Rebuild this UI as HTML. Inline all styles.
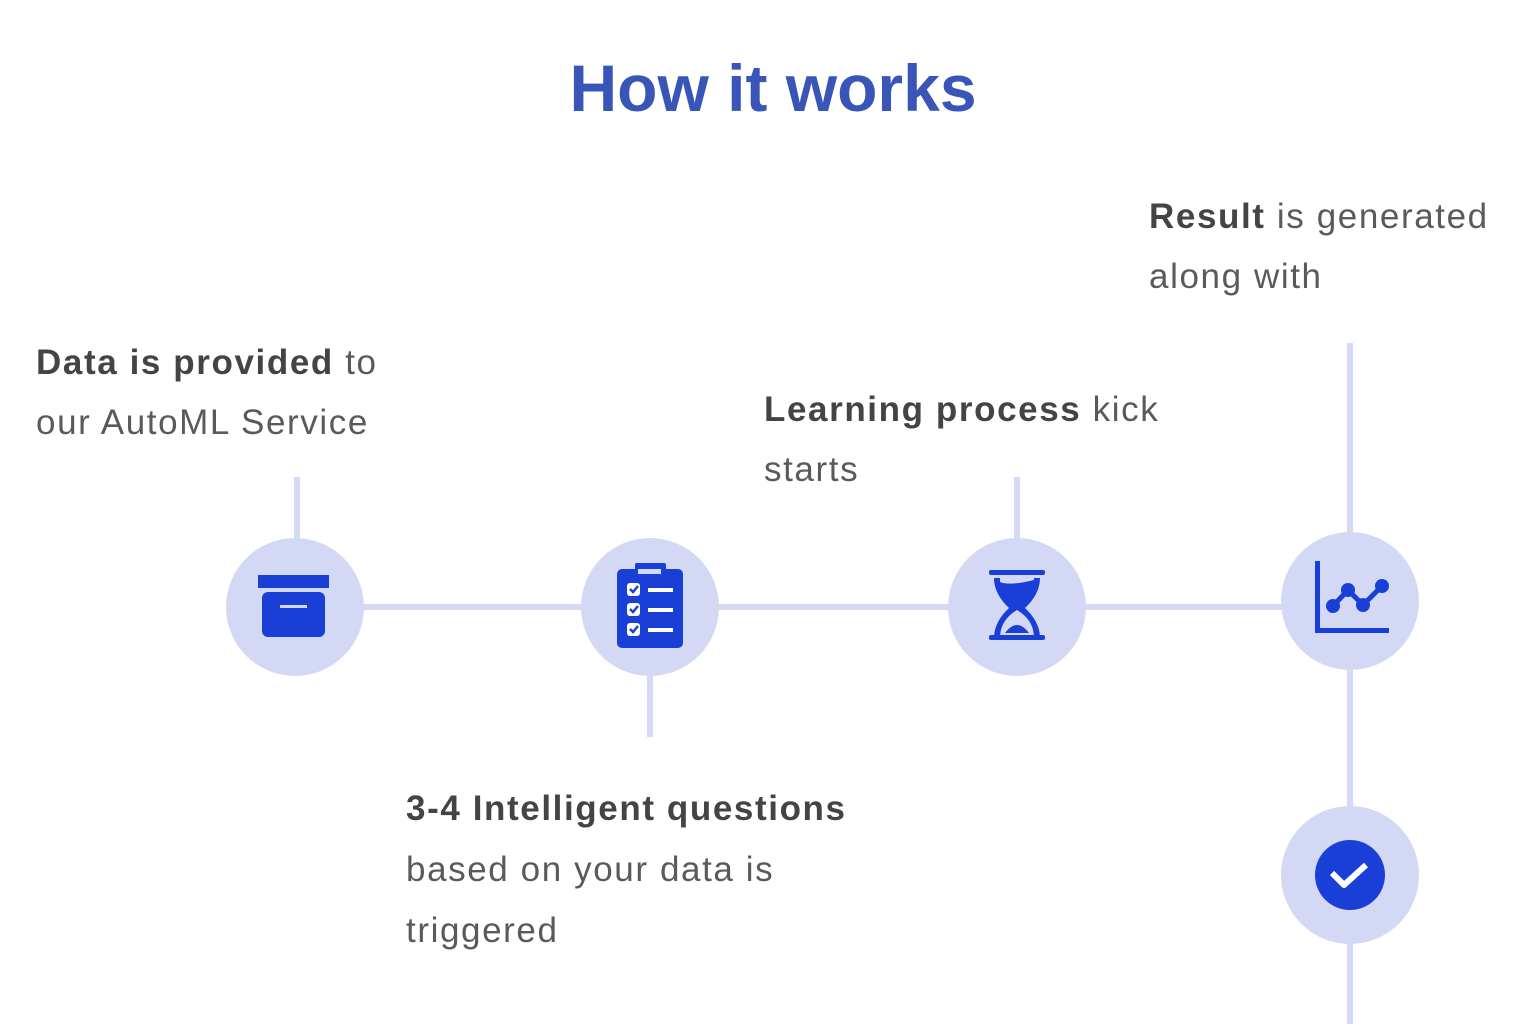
<!DOCTYPE html>
<html><head><meta charset="utf-8"><style>
body{margin:0;width:1536px;height:1024px;background:#fff;position:relative;overflow:hidden;font-family:"Liberation Sans",sans-serif}
.t{position:absolute;font-size:35px;line-height:60px;color:#5a5a5a;white-space:nowrap;letter-spacing:1.6px}
.t b{color:#444}
h1{position:absolute;left:0;width:1546px;text-align:center;top:50px;margin:0;font-size:66px;font-weight:bold;color:#3a55b8;letter-spacing:0px}
</style></head><body>
<h1>How it works</h1>
<div class="t" style="left:36px;top:333px"><b>Data is provided</b> to<br>our AutoML Service</div>
<div class="t" style="left:764px;top:380px"><b>Learning process</b> kick<br>starts</div>
<div class="t" style="left:1149px;top:187px"><b>Result</b> is generated<br>along with</div>
<div class="t" style="left:406px;top:778px;line-height:61px"><b>3-4 Intelligent questions</b><br>based on your data is<br>triggered</div>
<svg width="1536" height="1024" style="position:absolute;left:0;top:0">
<g stroke="#d4d9f5" stroke-width="6">
<line x1="295" y1="607" x2="1350" y2="607"/>
<line x1="297" y1="477" x2="297" y2="545"/>
<line x1="650" y1="670" x2="650" y2="737"/>
<line x1="1017" y1="477" x2="1017" y2="545"/>
<line x1="1350" y1="343" x2="1350" y2="1024"/>
</g>
<g fill="#d3d8f4">
<circle cx="295" cy="607" r="69"/><circle cx="650" cy="607" r="69"/>
<circle cx="1017" cy="607" r="69"/><circle cx="1350" cy="601" r="69"/>
<circle cx="1350" cy="875" r="69"/>
</g>
<g fill="#1a3fd6">
<rect x="258" y="575" width="71" height="13"/>
<rect x="262" y="592" width="63" height="45" rx="6"/>
<rect x="280" y="605" width="27" height="3" fill="#d3d8f4"/>
<rect x="617" y="569" width="66" height="79" rx="5"/>
<rect x="635" y="563" width="31" height="8" rx="2"/>
<rect x="638" y="569" width="23" height="5" fill="#d3d8f4"/>
<g fill="#fff"><rect x="627" y="583" width="13" height="13" rx="3"/><rect x="627" y="603" width="13" height="13" rx="3"/><rect x="627" y="623" width="13" height="13" rx="3"/>
<rect x="648" y="588" width="25" height="4"/><rect x="648" y="608" width="25" height="4"/><rect x="648" y="628" width="25" height="4"/></g>
<rect x="989" y="570" width="56" height="5" rx="2"/>
<rect x="989" y="635" width="56" height="5" rx="2"/>
<path d="M994 578 h6 v4 q10 4 34 -2 v-2 h6 q0 16 -15 30 q15 14 15 30 h-6 q0 -18 -17 -28 q-17 10 -17 28 h-6 q0 -16 15 -30 q-15 -14 -15 -30z"/>
<path d="M1005 633 q12 -16 24 0z"/>
<rect x="1315" y="561" width="5" height="72"/>
<rect x="1315" y="628" width="74" height="5"/>
<circle cx="1333" cy="606" r="7"/><circle cx="1348" cy="590" r="7"/><circle cx="1363" cy="605" r="7"/><circle cx="1382" cy="586" r="7"/>
<circle cx="1350" cy="875" r="35"/>
</g>
<polyline points="1333,606 1348,590 1363,605 1382,586" fill="none" stroke="#1a3fd6" stroke-width="5"/>
<g fill="none" stroke="#1a3fd6" stroke-width="2.5"><path d="M630 589 l3 3 l5 -6"/><path d="M630 609 l3 3 l5 -6"/><path d="M630 629 l3 3 l5 -6"/></g>
<path d="M1332 873 l12 12 l22 -20" fill="none" stroke="#fff" stroke-width="6" stroke-linejoin="round"/>
<path d="M1338 870 l6 6" fill="none" stroke="#1a3fd6" stroke-width="2"/>
</svg>
</body></html>
